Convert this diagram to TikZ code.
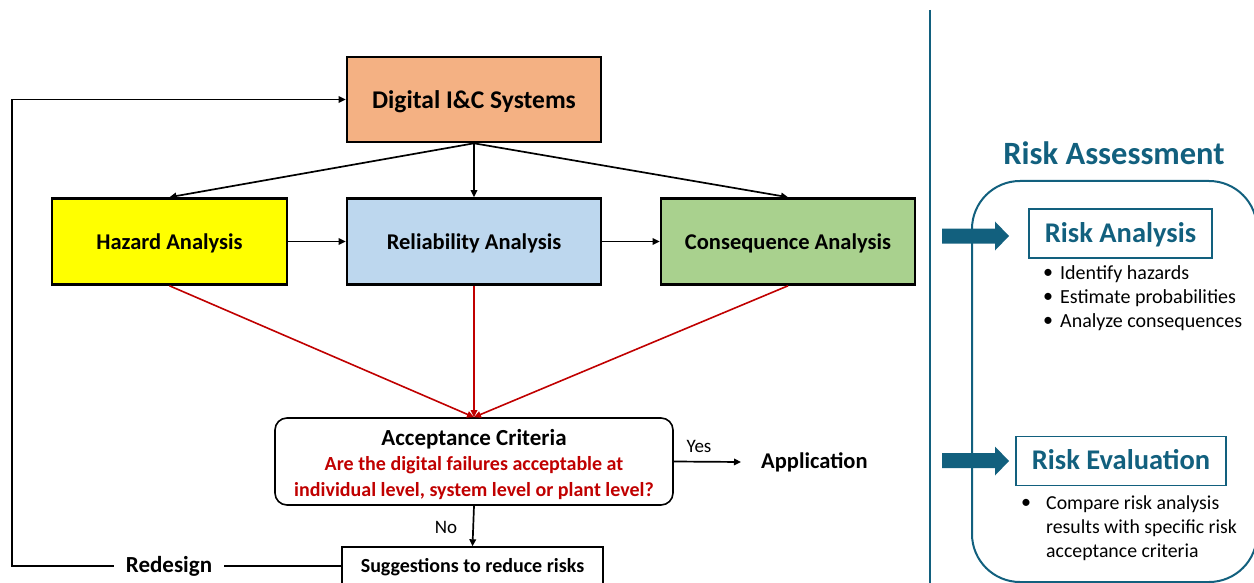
\documentclass[tikz,border=0pt]{standalone}
\usepackage{fontspec}
\setmainfont{Carlito}
\usetikzlibrary{arrows.meta}
\definecolor{boxorange}{HTML}{F4B183}
\definecolor{boxyellow}{HTML}{FFFF00}
\definecolor{boxblue}{HTML}{BDD7EE}
\definecolor{boxgreen}{HTML}{A9D18E}
\definecolor{accred}{HTML}{C00000}
\definecolor{panelteal}{HTML}{12607E}
\newcommand{\fsz}[1]{\fontsize{#1}{#1}\selectfont}
\begin{document}
\begin{tikzpicture}[x=1pt,y=-1pt,
  stagebox/.style={draw, line width=2.6pt, inner sep=0pt, minimum height=86pt,
    text height=15pt, text depth=0pt, font=\bfseries\fsz{22.5}},
  link/.style={-{Triangle[length=7pt,width=6.5pt]}, line width=1.7pt},
  redlink/.style={link, draw=accred, line width=1.6pt},
  plain/.style={inner sep=0pt},
  tealbox/.style={draw=panelteal, line width=1.5pt, inner sep=0pt, text=panelteal,
    text height=17.5pt, text depth=0pt, font=\bfseries\fsz{28.5}},
  bullettext/.style={inner sep=0pt, anchor=west, font=\fsz{20}}]
\useasboundingbox (0,0) rectangle (1254,583);
\clip (0,0) rectangle (1254,583);

% process boxes
\node[stagebox, fill=boxorange, minimum width=254pt, minimum height=85pt,
  text height=18pt, font=\bfseries\fsz{25.5}] (dig) at (474,99.5) {Digital I\&C Systems};
\node[stagebox, fill=boxyellow, minimum width=235pt] (haz) at (169.5,241.5) {Hazard Analysis};
\node[stagebox, fill=boxblue, minimum width=254pt] (rel) at (474,241.5) {Reliability Analysis};
\node[stagebox, fill=boxgreen, minimum width=254pt] (con) at (788,241.5) {Consequence Analysis};

% acceptance decision: frame and its text
\node[draw, line width=1.6pt, rounded corners=12pt, minimum width=398pt, minimum height=87pt,
  inner sep=0pt] (acc) at (474,461.5) {};
\node[plain, align=center, font=\bfseries\fontsize{20}{25.5}\selectfont] (acctext) at (474,464.5)
  {\fontsize{23}{25.5}\selectfont Acceptance Criteria\\
   \textcolor{accred}{Are the digital failures acceptable at}\\
   \textcolor{accred}{individual level, system level or plant level?}};
\node[draw, line width=1.4pt, minimum width=261pt, minimum height=38pt, inner sep=0pt,
  text height=14pt, text depth=2pt, font=\bfseries\fsz{20}] (sug) at (472.5,566)
  {Suggestions to reduce risks};
\node[plain, anchor=west, font=\bfseries\fsz{22.5}] (app) at (761,462) {Application};
\node[plain, fill=white, minimum width=110pt, minimum height=30pt, font=\bfseries\fsz{23}]
  (rd) at (169,566) {Redesign};
\coordinate (corner) at (12,566);

% connectors
\draw[link] (dig.south) -- (haz.north);
\draw[link] (dig.south) -- (rel.north);
\draw[link] (dig.south) -- (con.north);
\draw[link] (haz.east) -- (rel.west);
\draw[link] (rel.east) -- (con.west);
\draw[redlink] (haz.south) -- (acc.north);
\draw[redlink] (rel.south) -- (acc.north);
\draw[redlink] (con.south) -- (acc.north);
\draw[link] (acc.east) -- ([xshift=-20pt]app.west);
\draw[link] (acc.south) -- (sug.north);
\draw[line width=1.7pt] (sug.west) -- (rd.east);
\draw[link] (rd.west) -- (corner) |- (dig.west);
\node[plain, font=\fsz{19}] at (699,446) {Yes};
\node[plain, font=\fsz{19}] at (446,527) {No};

% risk assessment panel
\draw[panelteal, line width=2pt] (930,10) -- (930,583);
\node[plain, text=panelteal, font=\bfseries\fsz{32.5}] (ra) at (1114,153) {Risk Assessment};
\draw[panelteal, line width=2pt, rounded corners=48pt] (972,181) rectangle (1257,582);
\fill[panelteal] (942,228.5) -- (995,228.5) -- (995,221.5) -- (1009,236) -- (995,250.5)
  -- (995,243.5) -- (942,243.5) -- cycle;
\fill[panelteal] (942,453) -- (995,453) -- (995,446.5) -- (1009,461) -- (995,475.5)
  -- (995,468) -- (942,468) -- cycle;
\node[tealbox, minimum width=183pt, minimum height=49pt] (ran) at (1120.5,233.5) {Risk Analysis};
\node[tealbox, minimum width=210pt, minimum height=49pt] (rev) at (1121,461) {Risk Evaluation};

\node[bullettext] at (1043,274) {•};
\node[bullettext] (b1) at (1060,274) {Identify hazards};
\node[bullettext] at (1043,298) {•};
\node[bullettext] (b2) at (1060,298) {Estimate probabilities};
\node[bullettext] at (1043,322) {•};
\node[bullettext] (b3) at (1060,322) {Analyze consequences};
\node[bullettext] at (1021,504) {•};
\node[bullettext, align=left, font=\fontsize{19.8}{24}\selectfont] (b4) at (1046,528)
  {Compare risk analysis\\results with specific risk\\acceptance criteria};
\end{tikzpicture}
\end{document}
